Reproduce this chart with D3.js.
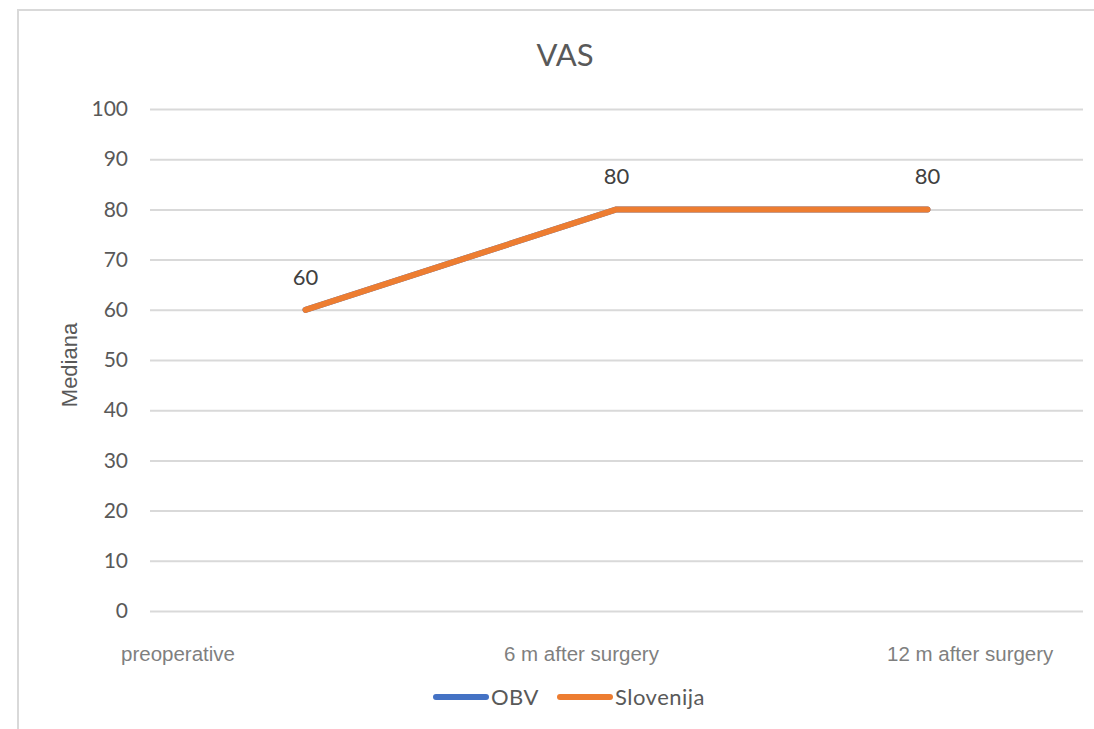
<!DOCTYPE html>
<html>
<head>
<meta charset="utf-8">
<script src="https://cdn.jsdelivr.net/npm/d3@7"></script>
<style>
  body { margin: 0; background: #fff; }
</style>
</head>
<body>
<div id="chart"></div>
<script>
const categories = ['preoperative', '6 m after surgery', '12 m after surgery']
const obvValues = [60, 80, 80]
const slovenijaValues = [60, 80, 80]
const yTicks = [0, 10, 20, 30, 40, 50, 60, 70, 80, 90, 100]

const series = [
  { name: 'OBV', values: obvValues, color: '#4472C4' },
  { name: 'Slovenija', values: slovenijaValues, color: '#ED7D31' }
]

const W = 1094, H = 729
const margin = { top: 109, right: 11, bottom: 118, left: 150 }
const width = W - margin.left - margin.right
const height = H - margin.top - margin.bottom

const svg = d3.select('#chart').append('svg')
  .attr('width', W).attr('height', H)

// chart border
svg.append('rect')
  .attr('x', 18).attr('y', 10)
  .attr('width', W).attr('height', H)
  .attr('fill', 'none').attr('stroke', '#d9d9d9').attr('stroke-width', 2)

svg.append('text')
  .attr('x', 565).attr('y', 66)
  .attr('text-anchor', 'middle')
  .style('font-family', 'Lato, sans-serif').style('font-size', '31px')
  .attr('fill', '#595959')
  .text('VAS')

const g = svg.append('g')
  .attr('transform', 'translate(' + margin.left + ',' + margin.top + ')')

var x = d3.scaleBand().domain(categories).range([0, width])
var y = d3.scaleLinear().domain([0, 100]).range([height, 0])

// gridlines + y labels
const yAxis = g.append('g')
  .call(d3.axisLeft(y).tickValues(yTicks).tickSize(-width).tickPadding(22))
yAxis.select('.domain').remove()
yAxis.selectAll('.tick line').attr('stroke', '#d9d9d9').attr('stroke-width', 2)
yAxis.selectAll('.tick text')
  .attr('fill', '#595959')
  .style('font-family', 'Lato, sans-serif').style('font-size', '21px')

// category labels (Excel places them offset from the band centres)
var xLab = d3.scalePoint().domain(categories).range([-29, 737])
g.append('g').selectAll('text')
  .data(categories).enter().append('text')
  .attr('x', d => xLab(d))
  .attr('y', height + 50)
  .attr('fill', '#7f7f7f')
  .style('font-family', '"Liberation Sans", Arial, sans-serif').style('font-size', '20.5px')
  .text(d => d)

svg.append('text')
  .attr('transform', 'translate(77,365) rotate(-90)')
  .attr('text-anchor', 'middle')
  .attr('fill', '#595959')
  .style('font-family', '"Liberation Sans", Arial, sans-serif').style('font-size', '22px')
  .text('Mediana')

const line = d3.line()
  .x((d, i) => x(categories[i]) + x.bandwidth() / 2)
  .y(d => y(d))

series.forEach(s => {
  g.append('path')
    .datum(s.values)
    .attr('d', line)
    .attr('fill', 'none')
    .attr('stroke', s.color)
    .attr('stroke-width', 6)
    .attr('stroke-linecap', 'round')
    .attr('stroke-linejoin', 'round')
})

// data labels for Slovenija
g.selectAll('.dlabel')
  .data(slovenijaValues).enter().append('text')
  .attr('x', (d, i) => x(categories[i]) + x.bandwidth() / 2)
  .attr('y', d => y(d) - 25)
  .attr('text-anchor', 'middle')
  .attr('fill', '#404040')
  .style('font-family', 'Lato, sans-serif').style('font-size', '22px')
  .text(d => d)

// legend
const legend = svg.append('g')
const lx = [433, 557]
series.forEach((s, i) => {
  legend.append('line')
    .attr('x1', lx[i] + 3).attr('x2', lx[i] + 53)
    .attr('y1', 697).attr('y2', 697)
    .attr('stroke', s.color).attr('stroke-width', 6)
    .attr('stroke-linecap', 'round')
  legend.append('text')
    .attr('x', lx[i] + 58).attr('y', 705)
    .attr('fill', '#595959')
    .style('font-family', 'Lato, sans-serif').style('font-size', '22px')
    .style('letter-spacing', '0.5px')
    .text(s.name)
})
</script>
</body>
</html>
